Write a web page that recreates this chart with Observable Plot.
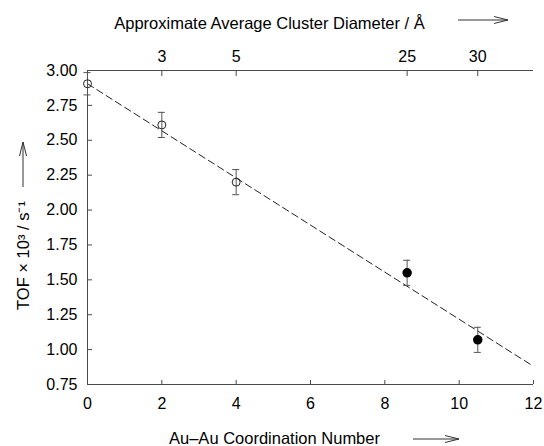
<!DOCTYPE html>
<html><head><meta charset="utf-8">
<script src="https://cdn.jsdelivr.net/npm/d3@7"></script>
<script src="https://cdn.jsdelivr.net/npm/@observablehq/plot@0.6"></script>
<style>body{margin:0;background:#fff}</style>
</head><body><div id="chart"></div>
<script>
const coordination = [0, 2, 4, 8.6, 10.5];
const tof = [2.905, 2.61, 2.20, 1.55, 1.07];
const tofErr = [0.08, 0.09, 0.09, 0.09, 0.09];
const filled = [false, false, false, true, true];
const fitX = [0, 12];
const fitY = [2.905, 0.88];
const xTicks = [0, 2, 4, 6, 8, 10, 12];
const yTicks = [0.75, 1.00, 1.25, 1.50, 1.75, 2.00, 2.25, 2.50, 2.75, 3.00];
const diameterTickPos = [2, 4, 8.6, 10.5];
const diameterTickLabels = ["3", "5", "25", "30"];
const xTitle = "Au\u2013Au Coordination Number";
const topTitle = "Approximate Average Cluster Diameter / \u00C5";
const yTitle = "TOF \u00D7 10\u00B3 / s\u207B\u00B9";

const pts = coordination.map((x, i) => ({x, y: tof[i], lo: tof[i] - tofErr[i], hi: tof[i] + tofErr[i], filled: filled[i]}));
const fit = fitX.map((x, i) => ({x, y: fitY[i]}));
const font = "'Liberation Sans', Arial, Helvetica, sans-serif";
const axisColor = "#4a4a4a";

const plot = Plot.plot({
  width: 544, height: 446,
  marginTop: 70, marginLeft: 87, marginRight: 11, marginBottom: 62,
  style: {fontFamily: font, fontSize: "16px", color: "#000", background: "#fff", overflow: "visible"},
  x: {domain: [0, 12]},
  y: {domain: [0.75, 3]},
  marks: [
    Plot.ruleX([0], {stroke: axisColor}),
    Plot.ruleY([0.75, 3], {stroke: axisColor}),
    Plot.axisY({ticks: yTicks, tickFormat: d3.format(".2f"), tickSize: -5, tickPadding: 15, label: null, stroke: axisColor, fill: "#000", fontSize: 16}),
    Plot.axisX({ticks: xTicks, tickSize: -4, tickPadding: 17, label: null, stroke: axisColor, fill: "#000", fontSize: 16}),
    Plot.axisX(diameterTickPos, {anchor: "top", tickFormat: d => diameterTickLabels[diameterTickPos.indexOf(d)], tickSize: -5, tickPadding: 14, label: null, stroke: axisColor, fill: "#000", fontSize: 16}),
    Plot.line(fit, {x: "x", y: "y", stroke: "#222", strokeWidth: 1, strokeDasharray: "7,4"}),
    Plot.ruleX(pts, {x: "x", y1: "lo", y2: "hi", stroke: "#555"}),
    Plot.ruleY(pts, {y: "lo", x1: "x", x2: "x", insetLeft: -3.5, insetRight: -3.5, stroke: "#555"}),
    Plot.ruleY(pts, {y: "hi", x1: "x", x2: "x", insetLeft: -3.5, insetRight: -3.5, stroke: "#555"}),
    Plot.dot(pts.filter(d => !d.filled), {x: "x", y: "y", r: 4, stroke: "#222", fill: "none", strokeWidth: 1}),
    Plot.dot(pts.filter(d => d.filled), {x: "x", y: "y", r: 4, stroke: "#000", fill: "#000"}),
    Plot.text([topTitle], {frameAnchor: "top", lineAnchor: "middle", dx: -41, dy: -47, fontSize: 16.5, fill: "#000"}),
    Plot.text([xTitle], {frameAnchor: "bottom", lineAnchor: "middle", dx: -36, dy: 54, fontSize: 16.5, fill: "#000"}),
    Plot.text([yTitle], {frameAnchor: "left", lineAnchor: "middle", textAnchor: "middle", rotate: -90, dx: -64, dy: 28, fontSize: 16.5, fill: "#000"})
  ]
});
document.getElementById("chart").appendChild(plot);

// decorative arrows next to the axis titles
const svg = d3.select(plot);
function arrow(x1, y1, x2, y2) {
  const g = svg.append("g").attr("stroke", "#333").attr("fill", "none").attr("stroke-width", 1);
  g.append("line").attr("x1", x1).attr("y1", y1).attr("x2", x2).attr("y2", y2);
  const a = Math.atan2(y2 - y1, x2 - x1), L = 14, w = 3.5;
  const bx = x2 - L * Math.cos(a), by = y2 - L * Math.sin(a);
  const px = -Math.sin(a) * w, py = Math.cos(a) * w;
  g.append("polyline").attr("points", `${bx + px},${by + py} ${x2},${y2} ${bx - px},${by - py}`);
}
arrow(458, 20, 508, 20);
arrow(413, 439, 459, 439);
arrow(23, 187, 23, 142);
</script>
</body></html>
